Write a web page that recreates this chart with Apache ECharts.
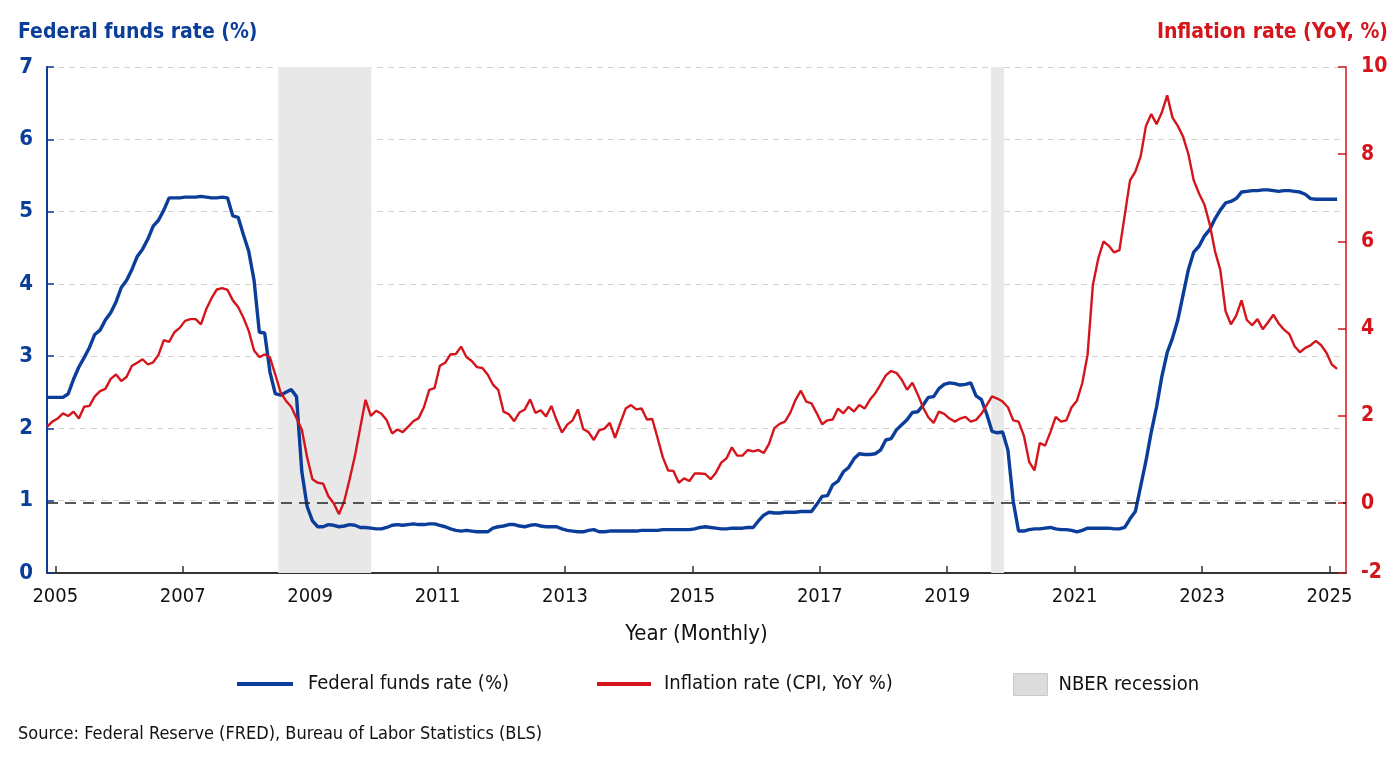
<!DOCTYPE html>
<html>
<head>
<meta charset="utf-8">
<title>Federal funds rate vs inflation</title>
<script src="https://cdn.jsdelivr.net/npm/echarts@6/dist/echarts.min.js"></script>
<style>
    html, body { margin: 0; padding: 0; background: #fff; }
    #chart { width: 1400px; height: 768px; }
</style>
</head>
<body>
<div id="chart"></div>
<script>
// first monthly observation, as a fractional year
var START = 2004.87;

var xTicks = [2005, 2007, 2009, 2011, 2013, 2015, 2017, 2019, 2021, 2023, 2025];
var rightTicks = [-1.6, 0, 2, 4, 6, 8, 10];
var rightTickLabels = ['-2', '0', '2', '4', '6', '8', '10'];

// NBER recession bands (start, end) in fractional years
var recessions = [[2008.50, 2009.96], [2019.69, 2019.89]];

// Federal funds rate (%), monthly
var ffr = [
    2.43, 2.43, 2.43, 2.43, 2.48, 2.68, 2.85, 2.98, 3.12, 3.30, 3.36, 3.50,
    3.60, 3.75, 3.95, 4.05, 4.20, 4.38, 4.48, 4.62, 4.80, 4.88, 5.02, 5.19,
    5.19, 5.19, 5.20, 5.20, 5.20, 5.21, 5.20, 5.19, 5.19, 5.20, 5.19, 4.94,
    4.92, 4.68, 4.45, 4.05, 3.33, 3.32, 2.78, 2.48, 2.46, 2.50, 2.54, 2.44,
    1.40, 0.92, 0.72, 0.64, 0.64, 0.67, 0.66, 0.64, 0.65, 0.67, 0.66, 0.63,
    0.63, 0.62, 0.61, 0.61, 0.63, 0.66, 0.67, 0.66, 0.67, 0.68, 0.67, 0.67,
    0.68, 0.68, 0.66, 0.64, 0.61, 0.59, 0.58, 0.59, 0.58, 0.57, 0.57, 0.57,
    0.62, 0.64, 0.65, 0.67, 0.67, 0.65, 0.64, 0.66, 0.67, 0.65, 0.64, 0.64,
    0.64, 0.61, 0.59, 0.58, 0.57, 0.57, 0.59, 0.60, 0.57, 0.57, 0.58, 0.58,
    0.58, 0.58, 0.58, 0.58, 0.59, 0.59, 0.59, 0.59, 0.60, 0.60, 0.60, 0.60,
    0.60, 0.60, 0.61, 0.63, 0.64, 0.63, 0.62, 0.61, 0.61, 0.62, 0.62, 0.62,
    0.63, 0.63, 0.72, 0.80, 0.84, 0.83, 0.83, 0.84, 0.84, 0.84, 0.85, 0.85,
    0.85, 0.95, 1.06, 1.07, 1.22, 1.27, 1.40, 1.46, 1.58, 1.65, 1.64, 1.64,
    1.65, 1.70, 1.84, 1.86, 1.98, 2.05, 2.12, 2.22, 2.23, 2.32, 2.43, 2.44,
    2.55, 2.61, 2.63, 2.62, 2.60, 2.61, 2.63, 2.45, 2.40, 2.20, 1.96, 1.94,
    1.95, 1.70, 0.99, 0.58, 0.58, 0.60, 0.61, 0.61, 0.62, 0.63, 0.61, 0.60,
    0.60, 0.59, 0.57, 0.59, 0.62, 0.62, 0.62, 0.62, 0.62, 0.61, 0.61, 0.63,
    0.75, 0.85, 1.20, 1.55, 1.95, 2.30, 2.72, 3.05, 3.25, 3.50, 3.85, 4.20,
    4.44, 4.52, 4.66, 4.75, 4.90, 5.02, 5.12, 5.14, 5.18, 5.27, 5.28, 5.29,
    5.29, 5.30, 5.30, 5.29, 5.28, 5.29, 5.29, 5.28, 5.27, 5.24, 5.18, 5.17,
    5.17, 5.17, 5.17, 5.17
];

// CPI inflation, YoY %, monthly
var cpi = [
    1.75, 1.87, 1.94, 2.06, 2.00, 2.10, 1.94, 2.21, 2.23, 2.45, 2.57, 2.62,
    2.85, 2.95, 2.80, 2.90, 3.15, 3.22, 3.30, 3.18, 3.23, 3.40, 3.74, 3.70,
    3.92, 4.02, 4.18, 4.22, 4.22, 4.10, 4.45, 4.70, 4.90, 4.93, 4.89, 4.65,
    4.50, 4.25, 3.95, 3.50, 3.35, 3.41, 3.34, 2.95, 2.54, 2.35, 2.21, 1.95,
    1.69, 1.05, 0.55, 0.47, 0.45, 0.16, 0.00, -0.25, 0.05, 0.55, 1.08, 1.73,
    2.37, 2.00, 2.12, 2.05, 1.90, 1.60, 1.69, 1.63, 1.75, 1.88, 1.95, 2.20,
    2.60, 2.64, 3.15, 3.22, 3.41, 3.42, 3.59, 3.35, 3.26, 3.12, 3.10, 2.95,
    2.72, 2.60, 2.10, 2.04, 1.88, 2.08, 2.15, 2.38, 2.07, 2.13, 1.99, 2.23,
    1.90, 1.62, 1.80, 1.90, 2.15, 1.70, 1.63, 1.45, 1.67, 1.71, 1.84, 1.50,
    1.84, 2.17, 2.25, 2.15, 2.17, 1.92, 1.93, 1.50, 1.05, 0.75, 0.74, 0.47,
    0.57, 0.51, 0.68, 0.68, 0.67, 0.55, 0.70, 0.93, 1.03, 1.28, 1.09, 1.09,
    1.22, 1.19, 1.22, 1.15, 1.36, 1.72, 1.82, 1.87, 2.07, 2.37, 2.58, 2.33,
    2.29, 2.06, 1.81, 1.90, 1.92, 2.17, 2.06, 2.21, 2.10, 2.25, 2.17, 2.37,
    2.52, 2.72, 2.93, 3.03, 2.99, 2.83, 2.60, 2.76, 2.50, 2.20, 1.97, 1.84,
    2.10, 2.05, 1.94, 1.87, 1.94, 1.98, 1.87, 1.91, 2.05, 2.25, 2.45, 2.40,
    2.33, 2.20, 1.90, 1.87, 1.55, 0.95, 0.75, 1.38, 1.32, 1.63, 1.98, 1.87,
    1.90, 2.20, 2.35, 2.75, 3.40, 5.00, 5.60, 6.00, 5.90, 5.75, 5.80, 6.60,
    7.40, 7.60, 7.95, 8.65, 8.92, 8.69, 8.96, 9.35, 8.84, 8.65, 8.40, 8.00,
    7.40, 7.10, 6.85, 6.40, 5.78, 5.35, 4.40, 4.10, 4.30, 4.65, 4.20, 4.08,
    4.22, 3.99, 4.15, 4.32, 4.12, 3.98, 3.88, 3.60, 3.46, 3.56, 3.62, 3.72,
    3.62, 3.45, 3.18, 3.08
];

var FONT = "'Liberation Sans Narrow', 'DejaVu Sans Condensed', sans-serif";
var BLUE = '#0b3d9a';
var RED = '#d4161c';

function toPoints(arr) {
    var out = [];
    for (var i = 0; i < arr.length; i++) {
        out.push([START + i / 12, arr[i]]);
    }
    return out;
}

var myChart = echarts.init(document.getElementById('chart'));
myChart.setOption({
    animation: false,
    textStyle: { fontFamily: FONT },
    title: [{
        text: 'Federal funds rate (%)',
        left: 18, top: 22, padding: 0,
        textStyle: { color: BLUE, fontSize: 21, fontWeight: 'bold', fontFamily: FONT }
    }, {
        text: 'Inflation rate (YoY, %)',
        right: 12, top: 22, padding: 0,
        textStyle: { color: RED, fontSize: 21, fontWeight: 'bold', fontFamily: FONT }
    }, {
        text: 'Source: Federal Reserve (FRED), Bureau of Labor Statistics (BLS)',
        left: 18, top: 725, padding: 0,
        textStyle: { color: '#111', fontSize: 18, fontWeight: 'normal', fontFamily: FONT }
    }],
    legend: [{
        data: [{ name: 'Federal funds rate (%)', icon: 'rect' }],
        left: 237, top: 674, padding: 0,
        itemWidth: 56, itemHeight: 4,
        selectedMode: false,
        textStyle: { fontSize: 20, color: '#111', fontFamily: FONT, padding: [0, 0, 0, 10] }
    }, {
        data: [{ name: 'Inflation rate (CPI, YoY %)', icon: 'rect' }],
        left: 597, top: 674, padding: 0,
        itemWidth: 54, itemHeight: 4,
        selectedMode: false,
        textStyle: { fontSize: 20, color: '#111', fontFamily: FONT, padding: [0, 0, 0, 8] }
    }, {
        data: [{
            name: 'NBER recession', icon: 'rect',
            itemStyle: { color: '#dcdcdc', borderColor: '#c9c9c9', borderWidth: 1 }
        }],
        left: 1013, top: 673, padding: 0,
        itemWidth: 34, itemHeight: 22,
        selectedMode: false,
        textStyle: { fontSize: 20, color: '#111', fontFamily: FONT, padding: [0, 0, 0, 6] }
    }],
    grid: { left: 47, right: 54, top: 67, bottom: 195 },
    xAxis: {
        type: 'value',
        min: START,
        max: 2025.26,
        name: 'Year (Monthly)',
        nameLocation: 'middle',
        nameGap: 50,
        nameTextStyle: { fontSize: 22, color: '#111', fontFamily: FONT },
        axisLine: { lineStyle: { color: '#333', width: 2 } },
        axisTick: { inside: true, length: 7, customValues: xTicks, lineStyle: { color: '#333', width: 1.5 } },
        axisLabel: {
            customValues: xTicks, margin: 14,
            fontSize: 20, color: '#111', fontFamily: FONT,
            formatter: function (v) { return String(Math.round(v)); }
        },
        splitLine: { show: false }
    },
    yAxis: [{
        type: 'value',
        min: 0, max: 7, interval: 1,
        axisLine: { show: true, lineStyle: { color: BLUE, width: 2 } },
        axisTick: { show: true, inside: true, length: 7, lineStyle: { color: BLUE, width: 1.5 } },
        axisLabel: { margin: 14, fontSize: 22, fontWeight: 'bold', color: BLUE, fontFamily: FONT },
        splitLine: { show: true, lineStyle: { color: '#d2d2d2', width: 1.2, type: [6, 5] } }
    }, {
        type: 'value',
        min: -1.6, max: 10,
        position: 'right',
        axisLine: { show: true, lineStyle: { color: RED, width: 1.5 } },
        axisTick: { show: true, inside: true, length: 8, customValues: rightTicks, lineStyle: { color: RED, width: 1.5 } },
        axisLabel: {
            customValues: rightTicks, margin: 15,
            fontSize: 21, fontWeight: 'bold', color: RED, fontFamily: FONT,
            formatter: function (v) {
                var k = rightTicks.indexOf(v);
                return k >= 0 ? rightTickLabels[k] : String(v);
            }
        },
        splitLine: { show: false }
    }],
    series: [{
        name: 'NBER recession',
        type: 'line',
        data: [],
        z: 1,
        itemStyle: { color: '#dcdcdc' },
        markArea: {
            silent: true,
            itemStyle: { color: '#e8e8e8' },
            data: recessions.map(function (r) {
                return [{ xAxis: r[0] }, { xAxis: r[1] }];
            })
        }
    }, {
        name: 'Federal funds rate (%)',
        type: 'line',
        yAxisIndex: 0,
        data: toPoints(ffr),
        showSymbol: false,
        z: 3,
        itemStyle: { color: BLUE },
        lineStyle: { color: BLUE, width: 3.4 }
    }, {
        name: 'Inflation rate (CPI, YoY %)',
        type: 'line',
        yAxisIndex: 1,
        data: toPoints(cpi),
        showSymbol: false,
        z: 4,
        itemStyle: { color: RED },
        lineStyle: { color: RED, width: 2.4 },
        markLine: {
            silent: true,
            symbol: 'none',
            label: { show: false },
            lineStyle: { color: '#222', width: 1.6, type: [11, 7] },
            data: [{ yAxis: 0 }]
        }
    }]
});
</script>
</body>
</html>
